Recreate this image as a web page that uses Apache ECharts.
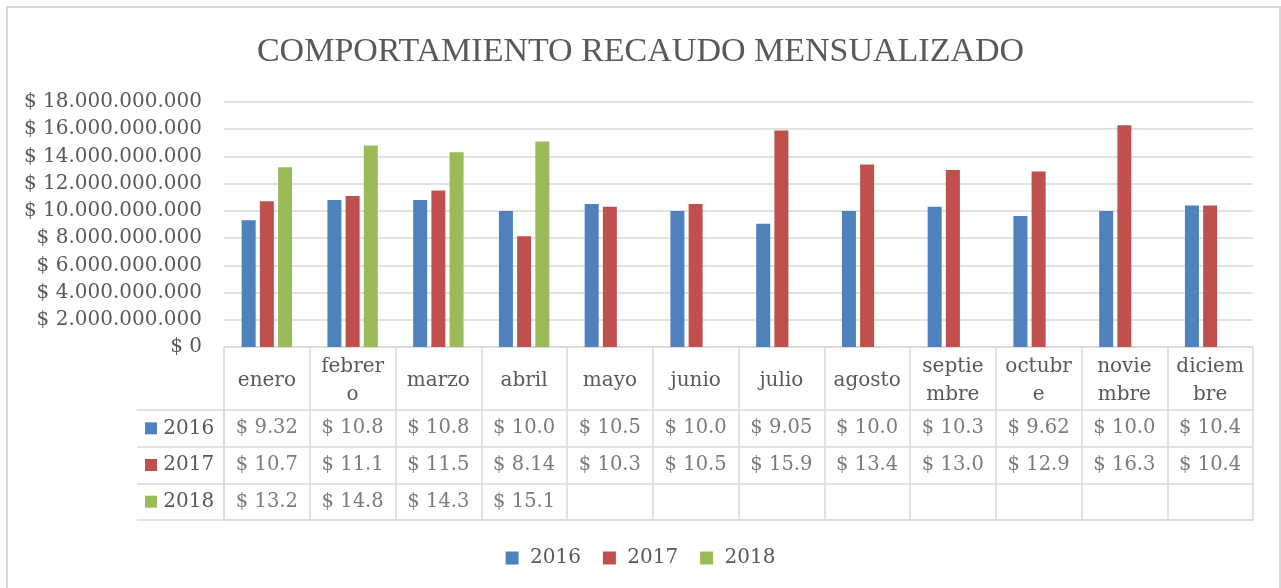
<!DOCTYPE html>
<html>
<head>
<meta charset="utf-8">
<script src="https://cdn.jsdelivr.net/npm/echarts@6/dist/echarts.min.js"></script>
<style>
  html, body { margin: 0; padding: 0; background: #fff; }
  #chart { width: 1281px; height: 588px; }
</style>
</head>
<body>
<div id="chart"></div>
<script>
// datos (en miles de millones)
var meses = ['enero', 'febrero', 'marzo', 'abril', 'mayo', 'junio', 'julio', 'agosto', 'septiembre', 'octubre', 'noviembre', 'diciembre'];
var anios = ['2016', '2017', '2018'];
var v2016 = [9.32, 10.8, 10.8, 10.0, 10.5, 10.0, 9.05, 10.0, 10.3, 9.62, 10.0, 10.4];
var v2017 = [10.7, 11.1, 11.5, 8.14, 10.3, 10.5, 15.9, 13.4, 13.0, 12.9, 16.3, 10.4];
var v2018 = [13.2, 14.8, 14.3, 15.1, null, null, null, null, null, null, null, null];

var colores = ['#4f81bd', '#c0504d', '#9bbb59'];
var gris = '#595959';
var linea = '#d9d9d9';
var fuente = 'DejaVu Serif';

var myChart = echarts.init(document.getElementById('chart'));

function pesos(v) {
    return '$ ' + String(v).replace(/\B(?=(\d{3})+(?!\d))/g, '.');
}
function toBar(arr) {
    return arr.map(function (v) { return v == null ? null : v * 1e9; });
}

// celdas de la tabla
var celdas = [];
[v2016, v2017, v2018].forEach(function (arr, r) {
    arr.forEach(function (v, c) {
        if (v != null) celdas.push([c, r, v]);
    });
});

var option = {
    backgroundColor: '#fff',
    color: colores,
    textStyle: { fontFamily: fuente, color: gris },
    title: {
        text: 'COMPORTAMIENTO RECAUDO MENSUALIZADO',
        left: 'center',
        top: 30,
        textStyle: {
            fontFamily: 'Liberation Serif',
            fontSize: 34,
            fontWeight: 'normal',
            color: gris
        }
    },
    graphic: [{
        type: 'rect',
        shape: { x: 7, y: 7, width: 1273, height: 600 },
        style: { fill: 'none', stroke: linea, lineWidth: 2 },
        silent: true
    }],
    legend: {
        bottom: 15,
        left: 'center',
        icon: 'rect',
        itemWidth: 13,
        itemHeight: 13,
        itemGap: 22,
        formatter: function (n) { return ' ' + n; },
        textStyle: { fontFamily: fuente, fontSize: 20, color: gris },
        data: anios
    },
    grid: [
        { left: 224, top: 102, width: 1029, height: 245 },
        { left: 224, top: 410, width: 1029, height: 110 }
    ],
    xAxis: [{
        type: 'category',
        gridIndex: 0,
        data: meses,
        axisLine: { lineStyle: { color: linea, width: 1.5 } },
        axisTick: { show: true, interval: 0, length: 173, lineStyle: { color: linea, width: 1.5 } },
        axisLabel: {
            interval: 0,
            margin: 34,
            verticalAlign: 'middle',
            width: 70,
            overflow: 'breakAll',
            lineHeight: 28,
            fontFamily: fuente,
            fontSize: 20,
            color: gris
        }
    }, {
        type: 'category',
        gridIndex: 1,
        data: meses,
        axisLine: { lineStyle: { color: linea, width: 1.5 } },
        axisTick: { show: false },
        axisLabel: { show: false }
    }],
    yAxis: [{
        type: 'value',
        gridIndex: 0,
        min: 0,
        max: 18e9,
        interval: 2e9,
        axisLine: { show: false },
        axisTick: { show: false },
        splitLine: { lineStyle: { color: linea, width: 1.5 } },
        axisLabel: {
            margin: 22,
            fontFamily: fuente,
            fontSize: 20,
            color: gris,
            formatter: function (v) { return pesos(v); }
        }
    }, {
        type: 'category',
        gridIndex: 1,
        inverse: true,
        data: anios,
        axisLine: { lineStyle: { color: linea, width: 1.5 } },
        axisTick: { show: true, interval: 0, length: 87, lineStyle: { color: linea, width: 1.5 } },
        splitLine: { show: true, interval: 0, lineStyle: { color: linea, width: 1.5 } },
        axisLabel: {
            margin: 79,
            align: 'left',
            fontFamily: fuente,
            fontSize: 20,
            color: gris,
            formatter: function (v, i) { return '{c' + i + '|} ' + v; },
            rich: {
                c0: { width: 12, height: 12, backgroundColor: colores[0] },
                c1: { width: 12, height: 12, backgroundColor: colores[1] },
                c2: { width: 12, height: 12, backgroundColor: colores[2] }
            }
        }
    }, {
        type: 'category',
        gridIndex: 1,
        inverse: true,
        data: anios,
        offset: 87,
        axisLine: { lineStyle: { color: linea, width: 1.5 } },
        axisTick: { show: false },
        axisLabel: { show: false }
    }],
    series: [
        { name: '2016', type: 'bar', xAxisIndex: 0, yAxisIndex: 0, barWidth: 14, barGap: '30%', data: toBar(v2016) },
        { name: '2017', type: 'bar', xAxisIndex: 0, yAxisIndex: 0, barWidth: 14, barGap: '30%', data: toBar(v2017) },
        { name: '2018', type: 'bar', xAxisIndex: 0, yAxisIndex: 0, barWidth: 14, barGap: '30%', data: toBar(v2018) },
        {
            name: 'tabla',
            type: 'scatter',
            xAxisIndex: 1,
            yAxisIndex: 1,
            symbol: 'rect',
            symbolSize: 1,
            itemStyle: { color: 'rgba(0,0,0,0)' },
            silent: true,
            label: {
                show: true,
                position: 'inside',
                fontFamily: fuente,
                fontSize: 19.5,
                color: gris,
                formatter: function (p) { return '$ ' + p.value[2].toPrecision(3); }
            },
            data: celdas
        }
    ]
};

myChart.setOption(option);
</script>
</body>
</html>
